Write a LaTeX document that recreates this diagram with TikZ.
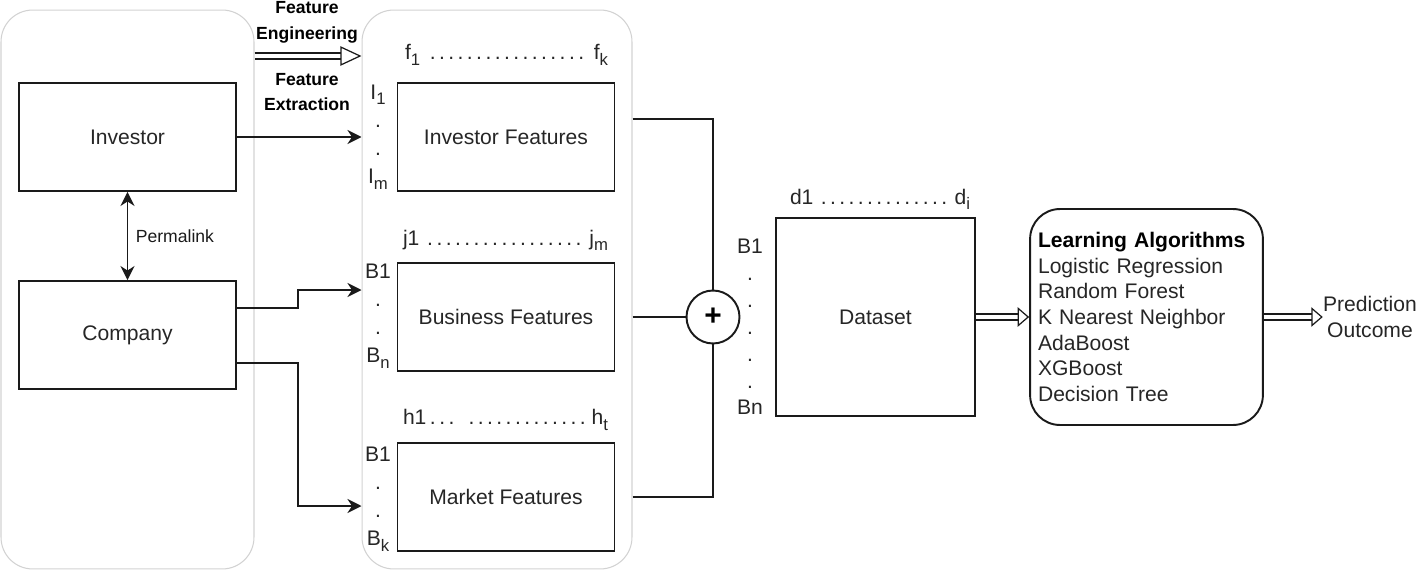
\documentclass[tikz,border=0pt]{standalone}
\usepackage{fontspec}
\setmainfont{Liberation Sans}
\usetikzlibrary{arrows.meta,positioning,calc}
\definecolor{boxline}{HTML}{1A1A1A}
\definecolor{frameline}{HTML}{D2D2D2}
\definecolor{txtgrey}{HTML}{262626}

\begin{document}
\begin{tikzpicture}[
  x=0.02cm, y=-0.02cm,
  font=\fontsize{12}{14}\selectfont, text=txtgrey,
  frame/.style={draw=frameline, line width=0.6pt, rounded corners=18pt,
                minimum height=11.18cm, inner sep=0pt},
  blk/.style={draw=boxline, line width=1.1pt, inner sep=0pt,
              minimum width=4.34cm, minimum height=2.16cm},
  col/.style={align=center, inner sep=0pt, font=\fontsize{12}{16}\selectfont},
  lbl/.style={align=center, inner sep=0pt, font=\fontsize{10}{14.7}\selectfont\bfseries, text=black},
  arr/.style={-{Stealth[length=8pt, width=8pt]}, boxline, line width=0.9pt},
  ln/.style={boxline, line width=0.9pt},
  hol/.style={boxline, line width=0.7pt, double=white, double distance=2.6pt,
              -{Triangle[open, length=6.5pt, width=11pt]}},
]
\def\idx#1#2#3{\hbox to #1{#2\dotfill#3}}
\def\subi#1{\raisebox{-3pt}{\fontsize{9.5}{9.5}\selectfont#1}}
\useasboundingbox (0,0) rectangle (1417,571);

% ---------------- sources ------------------------------------------
\node[frame, minimum width=5.06cm] (src) at (127.5,289.5) {};
\node[blk] (inv) at (127.5,137) {Investor};
\node[blk] (com) at (127.5,335) {Company};
\draw[{Stealth[length=8pt, width=8pt]}-{Stealth[length=8pt, width=8pt]}, boxline, line width=0.9pt]
  (inv.south) -- node[right, xshift=1pt, font=\fontsize{10}{12}\selectfont] {Permalink} (com.south |- com.north);

% ---------------- feature sets -------------------------------------
\node[frame, minimum width=5.4cm] (feat) at (497,289.5) {};
\node[blk] (inf) at (506,137) {Investor Features};
\node[blk] (bsf) at (506,317) {Business Features};
\node[blk] (mkf) at (506,497) {Market Features};

\node (fidx) at (506.5,55) {\idx{4.06cm}{f\subi{1}\,}{\,f\subi{k}}};
\node (jidx) at (505.5,240) {\idx{4.1cm}{j1\,}{\,j\subi{m}}};
\node (hidx) at (505.5,420) {\idx{4.1cm}{h1\,.\,.\,.\ \ }{\,h\subi{t}}};
\node[col] (icol) at (378,137) {I\subi{1}\\.\\.\\I\subi{m}};
\node[col] (bcol) at (378,316) {B1\\.\\.\\B\subi{n}};
\node[col] (kcol) at (378,499) {B1\\.\\.\\B\subi{k}};

\coordinate (fe) at (307,56);
\node[lbl, above=7pt of fe] (fen) {Feature\\Engineering};
\node[lbl, below=9.5pt of fe] (fex) {Feature\\Extraction};
\draw[hol, -{Triangle[open, length=12pt, width=11pt]}] (src.east |- fe) -- (feat.west |- fe);

\draw[arr] (inv.east) -- (feat.west |- inv.east);
\draw[arr] ([yshift=0.54cm]com.east) -- (298,308) -- (298,290) -- (feat.west |- 0,290);
\draw[arr] ([yshift=-0.56cm]com.east) -- (298,363) -- (298,506) -- (feat.west |- 0,506);

% ---------------- merge and dataset --------------------------------
\node[circle, draw=boxline, line width=1.1pt, minimum size=1.06cm, inner sep=0pt,
      font=\fontsize{17}{17}\selectfont\bfseries, text=black] (sum) at (713,317) {+};
\draw[ln] (feat.east |- 0,119) -| (sum.north);
\draw[ln] (feat.east |- bsf.east) -- (sum.west);
\draw[ln] (feat.east |- mkf.east) -| (sum.south);

\node[blk, minimum width=3.98cm, minimum height=3.96cm] (ds) at (875.5,317) {Dataset};
\node (didx) at (880,199) {\idx{3.6cm}{d1\,}{\,d\subi{i}}};
\node[col, font=\fontsize{12}{15.3}\selectfont] (dcol) at (750,327) {B1\\.\\.\\.\\.\\.\\Bn};

% ---------------- learning -----------------------------------------
\node[draw=boxline, line width=1.1pt, rounded corners=17pt, align=left,
      text width=4.34cm, inner xsep=4.5pt, minimum height=4.32cm,
      font=\fontsize{12}{14.6}\selectfont] (alg) at (1146.5,317)
  {\textbf{\color{black}Learning Algorithms}\\Logistic Regression\\Random Forest\\
   K Nearest Neighbor\\AdaBoost\\XGBoost\\Decision Tree};
\node[align=center, inner sep=0pt, font=\fontsize{12}{15.3}\selectfont] (out) at (1370,317)
  {Prediction\\Outcome};

\draw[hol] (ds.east) -- (alg.west);
\draw[hol] (alg.east) -- (out.west);

\end{tikzpicture}
\end{document}
